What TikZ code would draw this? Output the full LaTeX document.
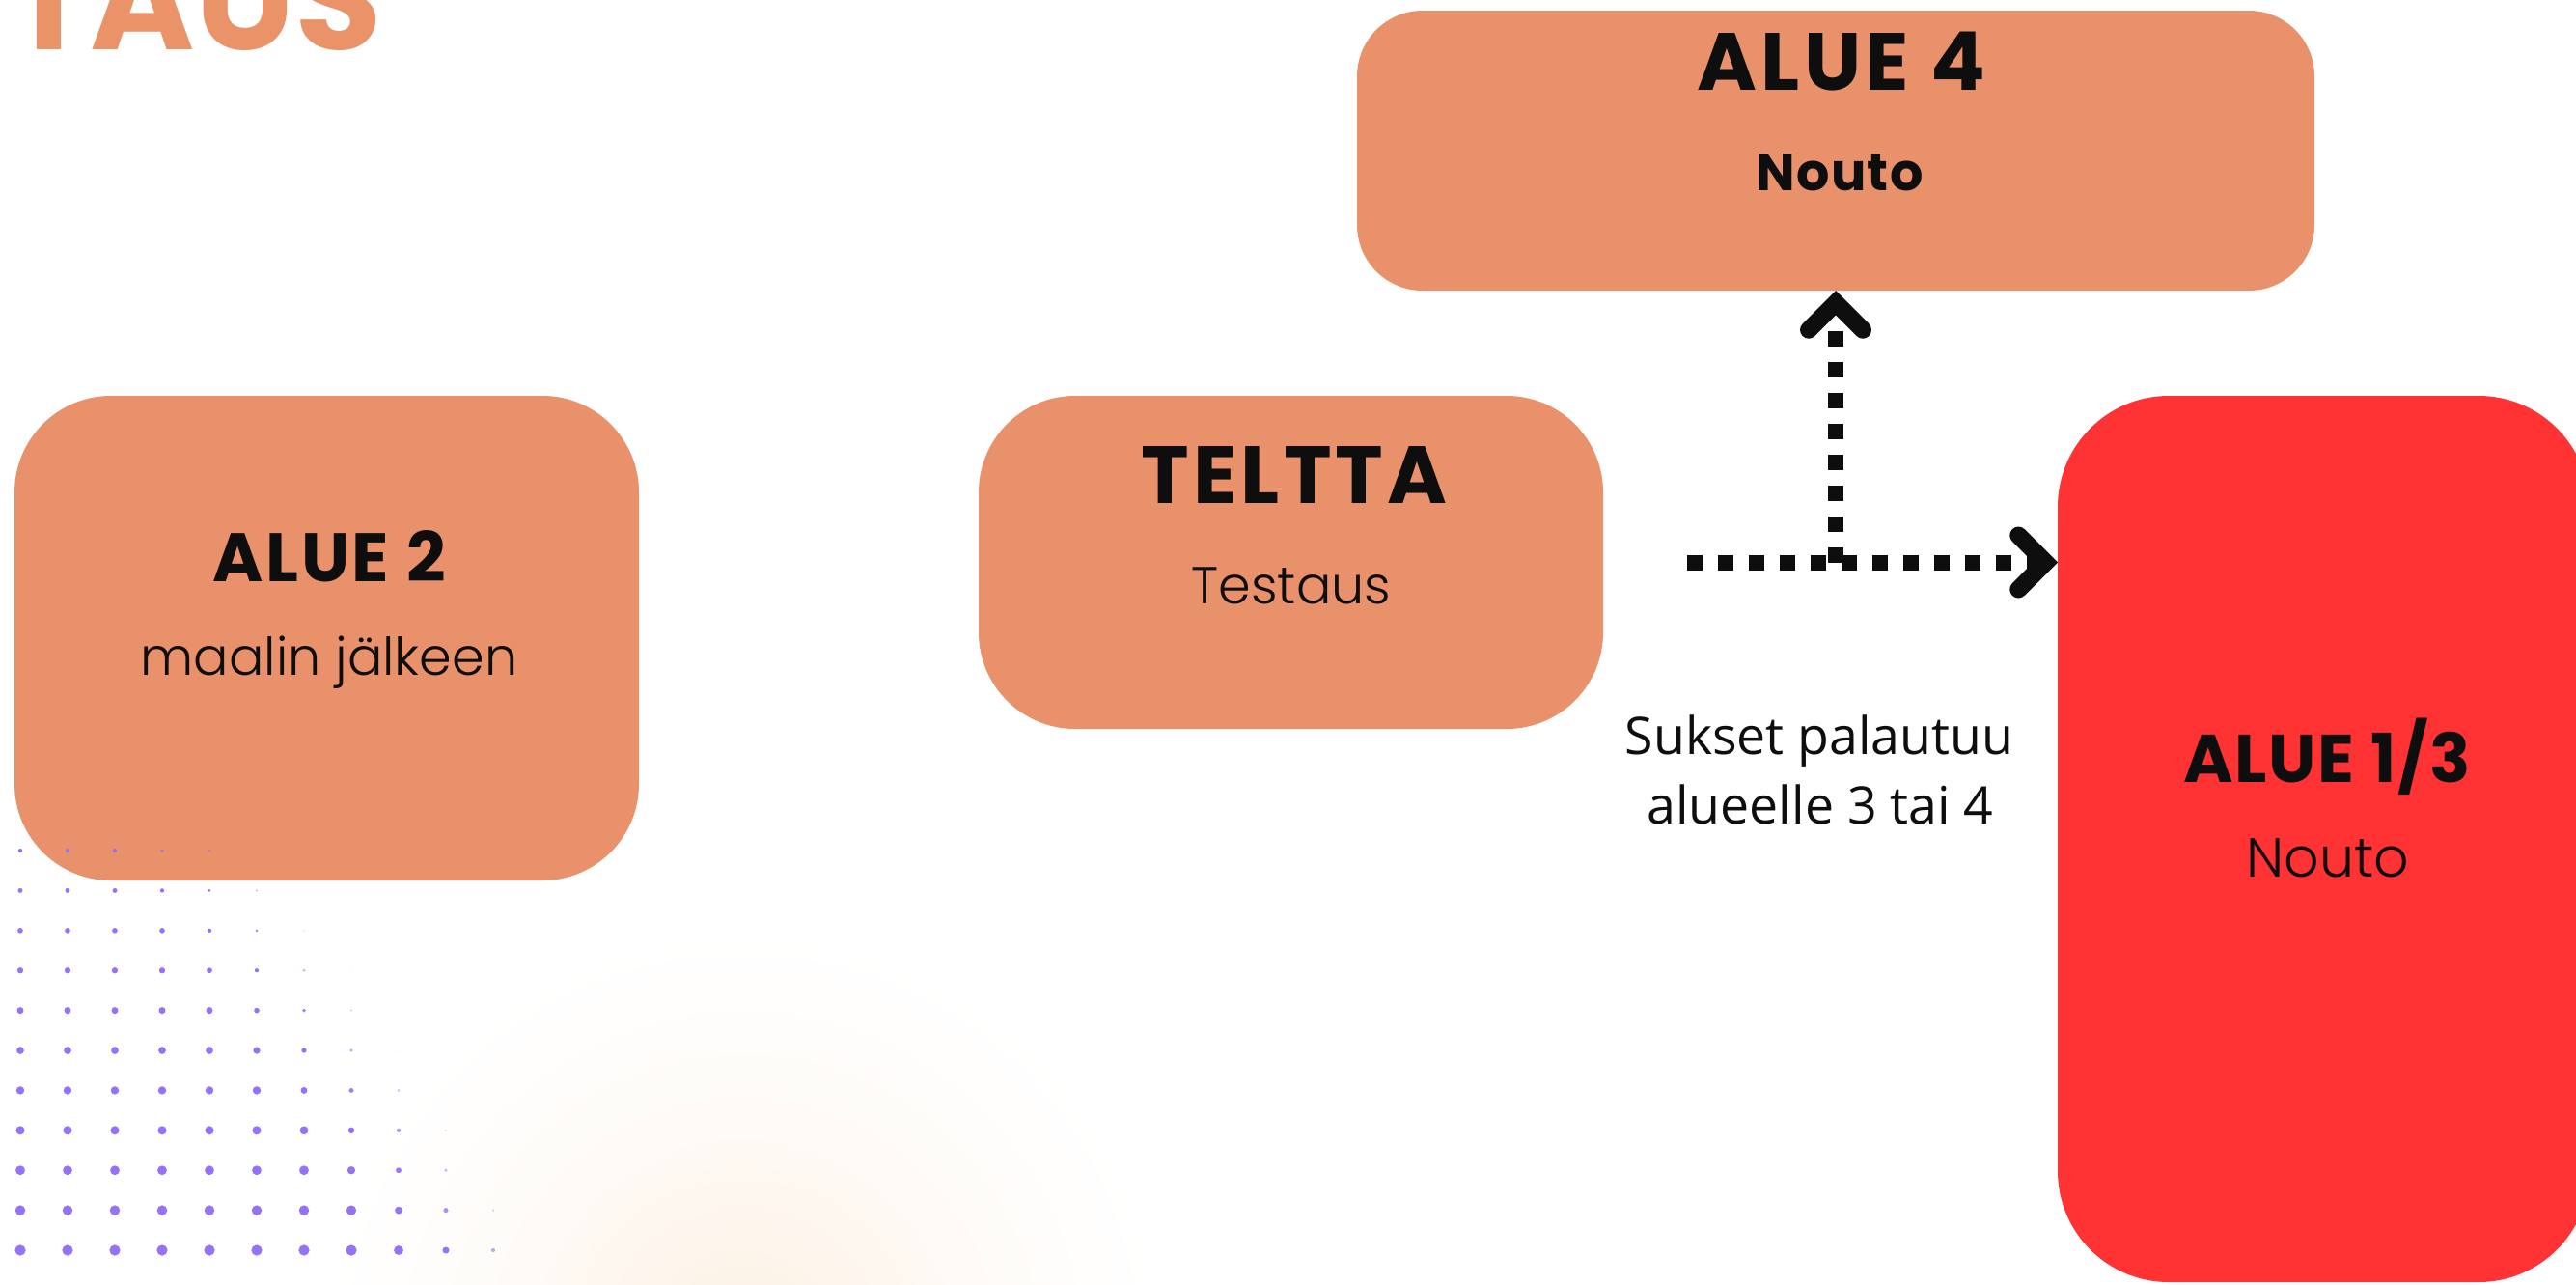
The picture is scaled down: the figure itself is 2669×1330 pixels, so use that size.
\documentclass[tikz,border=0pt]{standalone}
\usepackage{fontspec}
\setmainfont{Poppins}
\newfontfamily\plight{Poppins}[UprightFont={* Light}]
\newfontfamily\osans{Open Sans}
\usetikzlibrary{arrows.meta}
\definecolor{boxorange}{HTML}{E8916A}
\definecolor{titleorange}{HTML}{EA9369}
\definecolor{boxred}{HTML}{FF3333}
\definecolor{ink}{HTML}{0E0E0E}
\definecolor{dotpurple}{HTML}{9672F9}
\definecolor{glowc}{HTML}{FDF0E2}
\begin{document}
\begin{tikzpicture}[x=0.5pt,y=-0.5pt,
  area/.style={rectangle, draw=none, inner sep=0pt, outer sep=0pt},
  orangebox/.style={area, fill=boxorange},
  redbox/.style={area, fill=boxred},
  txt/.style={inner sep=0pt, outer sep=0pt, anchor=base, text=ink},
  dotline/.style={draw=ink, line width=8pt, line cap=butt, dash pattern=on 8pt off 8pt},
  chevron/.style={-{Straight Barb[length=14pt,width=28pt,line width=9pt,line cap=round,line join=miter]}}
]
\useasboundingbox (0,0) rectangle (2669,1330);
\clip (0,0) rectangle (2669,1330);
\fill[white] (0,0) rectangle (2669,1330);

% faint peach glow (opaque rings, lighter outwards)
\coordinate (glow) at (770,1400);
\foreach \i in {0,...,29}{
  \pgfmathsetmacro{\pp}{100*((\i+1)/30)^1.5}
  \fill[glowc!\pp!white] (glow) circle[radius={220pt*(1-\i/30)}];
}

% boxes
\node[orangebox, minimum width=323.5pt, minimum height=251pt, rounded corners=50pt] (a2) at (338.5,661) {};
\node[orangebox, minimum width=323.5pt, minimum height=172.5pt, rounded corners=50pt] (telt) at (1337.5,582.5) {};
\node[orangebox, minimum width=496pt, minimum height=145pt, rounded corners=34pt] (a4) at (1902,156) {};
\node[redbox, minimum width=275.5pt, minimum height=459pt, rounded corners=57.5pt] (a13) at (2407.5,869) {};

% title (cut at the top edge)
\node[inner sep=0pt, outer sep=0pt, anchor=base west, text=titleorange, font=\bfseries\fontsize{73.5}{76}\selectfont] (title) at (7,51) {TAUS};

% texts
\node[txt, font=\bfseries\fontsize{35.5}{42}\selectfont\addfontfeatures{LetterSpace=4}] (a2t) at (341,602) {ALUE 2};
\node[txt, font=\plight\fontsize{27}{32}\selectfont] (a2s) at (341,699) {maalin jälkeen};
\node[txt, font=\bfseries\fontsize{42}{48}\selectfont\addfontfeatures{LetterSpace=5}] (teltt) at (1341,521) {TELTTA};
\node[txt, font=\plight\fontsize{27}{32}\selectfont] (telts) at (1338,625) {Testaus};
\node[txt, font=\bfseries\fontsize{42}{48}\selectfont\addfontfeatures{LetterSpace=5}] (a4t) at (1908,93) {ALUE 4};
\node[txt, font=\bfseries\fontsize{27}{32}\selectfont\addfontfeatures{LetterSpace=2.6}] (a4s) at (1906,197) {Nouto};
\node[txt, font=\bfseries\fontsize{35}{42}\selectfont\addfontfeatures{LetterSpace=2.5}] (a13t) at (2411,810) {ALUE 1/3};
\node[txt, font=\plight\fontsize{28.5}{34}\selectfont] (a13s) at (2412,908) {Nouto};
\node[txt, font=\osans\fontsize{26.8}{34}\selectfont] (note1) at (1885,781) {Sukset palautuu};
\node[txt, font=\osans\fontsize{26.8}{34}\selectfont] (note2) at (1886,853) {alueelle 3 tai 4};

% connectors
\coordinate (hs) at ([xshift=43.5pt]telt.east);
\coordinate (vs) at (a4.south |- hs);
\draw[dotline, chevron] (hs) -- (hs -| a13.west);
\draw[dotline, chevron] (vs) -- (a4.south);

% dot grid
\foreach \r in {0,...,10}{
  \foreach \c in {0,...,10}{
    \pgfmathsetmacro{\ff}{min(1,(6+0.55*\r-\c)/4)}
    \pgfmathsetmacro{\dd}{(4.2+0.7*\r)*\ff}
    \pgfmathsetmacro{\oo}{min(1,\ff*1.6)}
    \ifdim \ff pt>0.08pt
      \fill[dotpurple, opacity=\oo] ({21+49*\c},{881+41.4*\r}) circle[radius=\dd*0.25pt];
    \fi
  }
}
\end{tikzpicture}
\end{document}
